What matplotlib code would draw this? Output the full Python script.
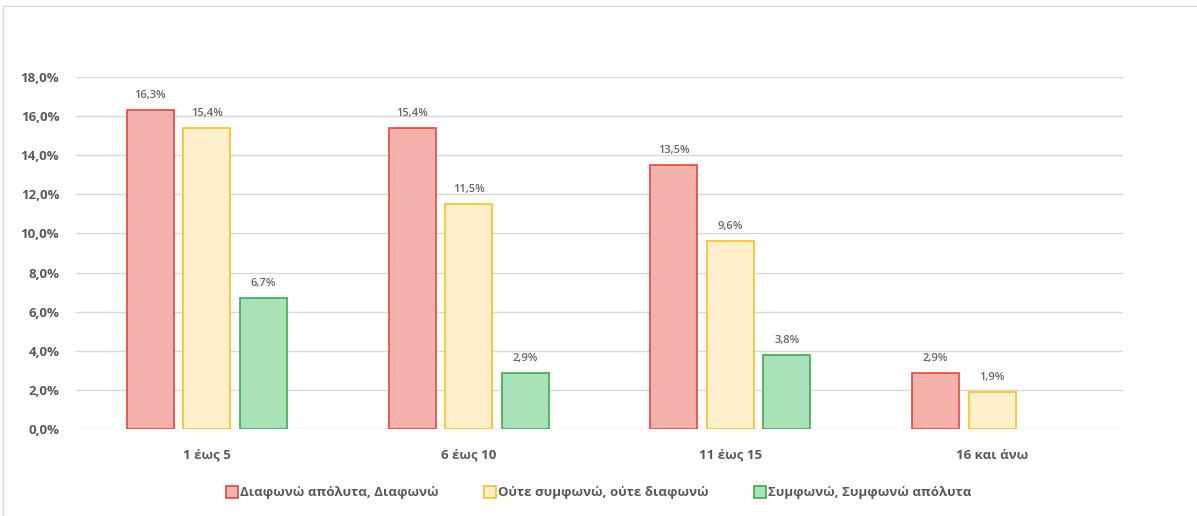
import numpy as np
import matplotlib.pyplot as plt
from matplotlib.lines import Line2D

plt.rcParams['font.family'] = ['Open Sans', 'DejaVu Sans']

# Δεδομένα ανά κατηγορία ετών
categories = ['1 έως 5', '6 έως 10', '11 έως 15', '16 και άνω']
disagree = [16.3, 15.4, 13.5, 2.9]
neutral = [15.4, 11.5, 9.6, 1.9]
agree = [6.7, 2.9, 3.8, 0.0]
series_names = ['Διαφωνώ απόλυτα, Διαφωνώ',
                'Ούτε συμφωνώ, ούτε διαφωνώ',
                'Συμφωνώ, Συμφωνώ απόλυτα']

fills = ['#F5B1AC', '#FFF0CB', '#A8E2B6']
edges = ['#E8453C', '#FBBF1F', '#3DAA55']
text_gray = '#595959'

fig = plt.figure(figsize=(11.97, 5.16), dpi=100)
ax = fig.add_axes([0.0635, 0.1680, 0.8747, 0.6833])

x = np.arange(len(categories))
w = 0.18
step = 0.216
for i, (vals, fc, ec) in enumerate(zip([disagree, neutral, agree], fills, edges)):
    pos = x + (i - 1) * step
    # μηδενικές τιμές χωρίς περίγραμμα
    lw = [1.2 if v > 0 else 0 for v in vals]
    bars = ax.bar(pos, vals, width=w, color=fc, edgecolor=ec, linewidth=lw,
                  zorder=3)
    for b, v in zip(bars, vals):
        if v <= 0:
            continue
        ax.text(b.get_x() + b.get_width() / 2, v + 0.45, f'{v:.1f}%'.replace('.', ','),
                ha='center', va='bottom', fontsize=8, fontweight='semibold',
                color='#666666')

ax.set_xlim(-0.5, len(categories) - 0.5)
ax.set_ylim(0, 18)
ax.set_yticks(np.arange(0, 19, 2))
ax.set_yticklabels([f'{t:.1f}%'.replace('.', ',') for t in np.arange(0, 19, 2)])
ax.set_xticks(x)
ax.set_xticklabels(categories)
ax.grid(axis='y', color='#D9D9D9', linewidth=1, zorder=0)
for s in ax.spines.values():
    s.set_visible(False)
ax.tick_params(length=0, labelsize=9.5, labelcolor=text_gray, pad=12)
for lbl in ax.get_xticklabels() + ax.get_yticklabels():
    lbl.set_fontweight('bold')
ax.tick_params(axis='x', pad=14)

handles = [Line2D([], [], marker='s', linestyle='none', markersize=8,
                  markerfacecolor=fc, markeredgecolor=ec, markeredgewidth=1.2)
           for fc, ec in zip(fills, edges)]
leg = fig.legend(handles, series_names, loc='center', bbox_to_anchor=(0.5, 0.045),
                 ncol=3, frameon=False, fontsize=9.5, handletextpad=0.1,
                 columnspacing=3.4, handlelength=1.0)
for t in leg.get_texts():
    t.set_color(text_gray)
    t.set_fontweight('bold')

# πλαίσιο γραφήματος
fig.add_artist(Line2D([0.0025, 1], [0.989, 0.989], color='#D9D9D9', linewidth=1))
fig.add_artist(Line2D([0.0025, 0.0025], [0, 0.989], color='#D9D9D9', linewidth=1))

fig.savefig('out.png', dpi=100)
